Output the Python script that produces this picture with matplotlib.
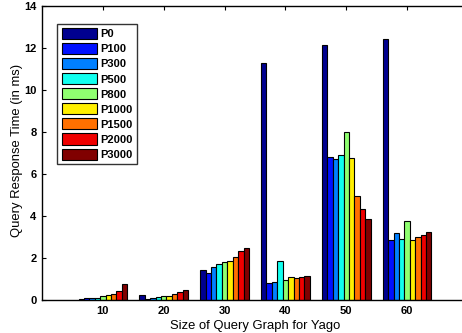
import numpy as np
import matplotlib
matplotlib.use("Agg")
import matplotlib.pyplot as plt
from matplotlib.patches import Patch

# Query graph sizes (group positions on the x axis)
sizes = [10, 20, 30, 40, 50, 60]
series_names = ["P0", "P100", "P300", "P500", "P800", "P1000", "P1500", "P2000", "P3000"]

# Response time in ms, one list per series, ordered by query graph size
p0    = [0.05, 0.22, 1.44, 11.30, 12.13, 12.41]
p100  = [0.08, 0.06, 1.30, 0.81, 6.80, 2.86]
p300  = [0.10, 0.10, 1.56, 0.86, 6.70, 3.19]
p500  = [0.10, 0.16, 1.70, 1.84, 6.89, 2.90]
p800  = [0.20, 0.20, 1.79, 0.93, 8.02, 3.76]
p1000 = [0.22, 0.20, 1.84, 1.09, 6.75, 2.87]
p1500 = [0.30, 0.27, 2.03, 1.05, 4.97, 2.99]
p2000 = [0.45, 0.36, 2.32, 1.09, 4.32, 3.09]
p3000 = [0.78, 0.46, 2.46, 1.16, 3.84, 3.25]
series = [p0, p100, p300, p500, p800, p1000, p1500, p2000, p3000]

colors = ["#00008f", "#0010ff", "#0080ff", "#10ffef", "#8fff70",
          "#ffef00", "#ff7000", "#ef0000", "#800000"]

plt.rcParams["font.family"] = ["Liberation Sans", "DejaVu Sans"]

fig = plt.figure(figsize=(4.62, 3.33), dpi=100)
ax = fig.add_axes([42 / 462, 33 / 333, 426 / 462, 294 / 333])

n = len(series)
group_w = 8.0
bar_w = group_w / n
x = np.array(sizes, dtype=float)
for i, (vals, c) in enumerate(zip(series, colors)):
    offs = -group_w / 2 + bar_w * (i + 0.5)
    ax.bar(x + offs, vals, width=bar_w, color=c, edgecolor="black",
           linewidth=0.8, zorder=2)

ax.set_xlim(0, 70)
ax.set_ylim(0, 14)
ax.set_xticks(sizes)
ax.set_yticks(np.arange(0, 15, 2))
ax.tick_params(direction="in", top=True, right=True, length=3, width=0.8,
               labelsize=8, pad=4)
for lab in ax.get_xticklabels() + ax.get_yticklabels():
    lab.set_fontweight("bold")
for s in ax.spines.values():
    s.set_linewidth(1.0)

ax.set_xlabel("Size of Query Graph for Yago", fontsize=9.4, labelpad=3)
ax.set_ylabel("Query Response Time (in ms)", fontsize=9.4)
ax.yaxis.set_label_coords(-0.045, 0.51)

handles = [Patch(facecolor=c, edgecolor="black", linewidth=0.8) for c in colors]
leg = ax.legend(handles, series_names, loc="upper left",
                bbox_to_anchor=(0.036, 0.94), frameon=True, fancybox=False,
                edgecolor="black", prop={"weight": "bold", "size": 8},
                handlelength=3.2, handleheight=1.15, handletextpad=0.3,
                labelspacing=0.34, borderpad=0.4, borderaxespad=0.0)
leg.get_frame().set_linewidth(1.0)

fig.savefig("out.png", dpi=100)
